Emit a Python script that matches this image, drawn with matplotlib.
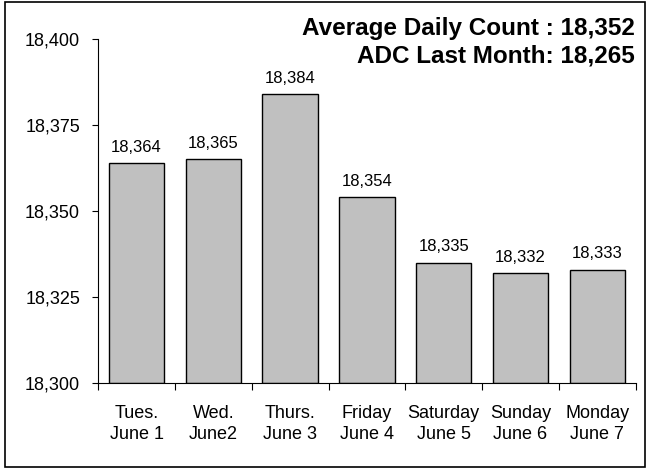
import numpy as np
import matplotlib
matplotlib.use('Agg')
import matplotlib.pyplot as plt
from matplotlib.ticker import FuncFormatter, FixedLocator

plt.rcParams['font.family'] = ['Liberation Sans', 'DejaVu Sans']

# data
days = ['Tues.\nJune 1', 'Wed.\nJune2', 'Thurs.\nJune 3', 'Friday\nJune 4',
        'Saturday\nJune 5', 'Sunday\nJune 6', 'Monday\nJune 7']
counts = [18364, 18365, 18384, 18354, 18335, 18332, 18333]
title_lines = ['Average Daily Count : 18,352', 'ADC Last Month: 18,265']
y_ticks = [18300, 18325, 18350, 18375, 18400]

fig = plt.figure(figsize=(6.5, 4.69), dpi=100)
ax = fig.add_axes([0.151, 0.183, 0.827, 0.734])

x = np.arange(len(days))
bars = ax.bar(x, np.array(counts) - 18300, bottom=18300, width=0.72,
              color='#c0c0c0', edgecolor='black', linewidth=1.0, zorder=2)

for xi, v in zip(x, counts):
    ax.text(xi, v + 2.4, '{:,}'.format(v), ha='center', va='bottom', fontsize=12)

ax.set_xlim(-0.5, len(days) - 0.5)
ax.set_ylim(18300, 18400)
ax.set_yticks(y_ticks)
ax.yaxis.set_major_formatter(FuncFormatter(lambda v, p: '{:,}'.format(int(v))))
ax.tick_params(axis='y', direction='out', length=4, labelsize=13, pad=9)

# category labels between ticks
ax.xaxis.set_major_locator(FixedLocator(np.arange(-0.5, len(days), 1.0)))
ax.xaxis.set_minor_locator(FixedLocator(x))
ax.set_xticklabels([])
ax.set_xticklabels(days, minor=True)
ax.tick_params(axis='x', which='major', direction='out', length=5)
ax.tick_params(axis='x', which='minor', length=0, labelsize=13, pad=16)
for lbl in ax.get_xticklabels(minor=True):
    lbl.set_multialignment('center')
    lbl.set_linespacing(1.25)

ax.spines['top'].set_visible(False)
ax.spines['right'].set_visible(False)

fig.text(0.977, 1 - 35 / 469, title_lines[0], ha='right', va='baseline',
         fontsize=17.5, fontweight='bold')
fig.text(0.977, 1 - 62 / 469, title_lines[1], ha='right', va='baseline',
         fontsize=17.5, fontweight='bold')

# outer border
fig.patches.append(plt.Rectangle((0.008, 0.005), 0.984, 0.99, transform=fig.transFigure,
                                 fill=False, edgecolor='black', linewidth=1.2))

fig.savefig('out.png', dpi=100)
